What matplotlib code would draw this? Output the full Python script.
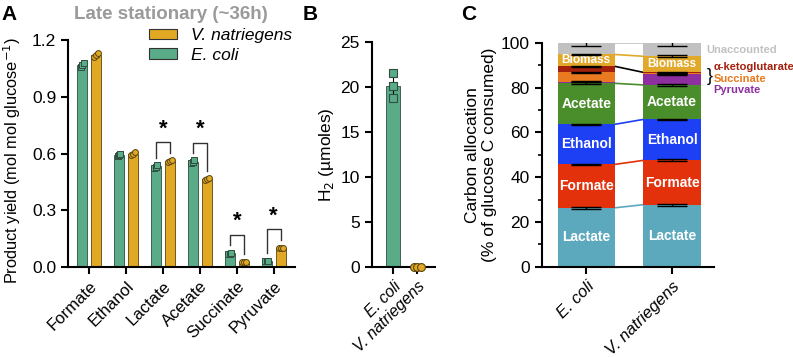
import numpy as np
import matplotlib.pyplot as plt
from matplotlib.patches import Patch

plt.rcParams['font.family'] = ['Liberation Sans', 'DejaVu Sans']
plt.rcParams['axes.linewidth'] = 1.5
plt.rcParams['xtick.major.width'] = 1.5
plt.rcParams['ytick.major.width'] = 1.5
plt.rcParams['ytick.minor.width'] = 1.2
plt.rcParams['xtick.major.size'] = 5
plt.rcParams['ytick.major.size'] = 5

# ---- panel A: product yields (mol / mol glucose), three replicates each
products = ["Formate", "Ethanol", "Lactate", "Acetate", "Succinate", "Pyruvate"]
ecoli_yield = [[1.055, 1.07, 1.08], [0.585, 0.59, 0.595], [0.525, 0.53, 0.54],
               [0.55, 0.555, 0.565], [0.07, 0.07, 0.075], [0.03, 0.03, 0.03]]
vnat_yield = [[1.11, 1.12, 1.13], [0.59, 0.60, 0.61], [0.555, 0.56, 0.565],
              [0.46, 0.465, 0.47], [0.025, 0.025, 0.025], [0.10, 0.10, 0.10]]
significant = ["Lactate", "Acetate", "Succinate", "Pyruvate"]

# ---- panel B: H2 produced (umoles)
strains = ["E. coli", "V. natriegens"]
h2_ecoli = [18.8, 20.1, 21.6]
h2_vnat = [0.0, 0.0, 0.0]

# ---- panel C: carbon allocation (% of glucose C consumed)
fractions = ["Lactate", "Formate", "Ethanol", "Acetate", "Pyruvate",
             "Succinate", "α-ketoglutarate", "Biomass", "Unaccounted"]
alloc_ecoli = [26.3, 19.4, 17.9, 18.3, 0.7, 4.2, 2.7, 5.3, 5.2]
alloc_vnat = [27.7, 19.8, 18.3, 15.4, 4.8, 0.6, 0.2, 7.2, 6.0]
alloc_err_ecoli = [0.4, 0.3, 0.3, 0.4, 0.2, 0.2, 0.2, 0.4, 1.3]
alloc_err_vnat = [0.4, 0.4, 0.3, 0.3, 0.3, 0.1, 0.1, 0.4, 1.4]

green = "#5aab88"
gold = "#e1a823"
frac_colors = ["#5ca9be", "#e2310b", "#1e40f5", "#4a8d2b", "#8e2f9f",
               "#e97a20", "#a3200c", "#e2a82a", "#c1c1c1"]
inside_labels = ["Lactate", "Formate", "Ethanol", "Acetate", "Biomass"]
linked = ["Lactate", "Formate", "Ethanol", "Acetate", "α-ketoglutarate",
          "Biomass", "Unaccounted"]

fig = plt.figure(figsize=(7.93, 3.57), dpi=100)

# ================= A =================
ax = fig.add_axes([0.0858, 0.252, 0.286, 0.636])
x = np.arange(len(products))
w = 0.27
off = 0.19
e_mean = [np.mean(v) for v in ecoli_yield]
v_mean = [np.mean(v) for v in vnat_yield]
e_sd = [np.std(v) for v in ecoli_yield]
v_sd = [np.std(v) for v in vnat_yield]
ax.bar(x - off, e_mean, w, color=green, edgecolor="#2f4f40", linewidth=0.6,
       yerr=e_sd, capsize=2, error_kw=dict(lw=0.8, capthick=0.8), zorder=2)
ax.bar(x + off, v_mean, w, color=gold, edgecolor="#5a4510", linewidth=0.6,
       yerr=v_sd, capsize=2, error_kw=dict(lw=0.8, capthick=0.8), zorder=2)
for i in range(len(products)):
    ax.scatter(np.full(3, x[i] - off) + np.array([-0.04, 0.0, 0.04]), ecoli_yield[i],
               marker="s", s=18, facecolor=green, edgecolor="#2f4f40", lw=0.7, zorder=3)
    ax.scatter(np.full(3, x[i] + off) + np.array([-0.05, 0.0, 0.05]), vnat_yield[i],
               marker="o", s=18, facecolor=gold, edgecolor="#5a4510", lw=0.7, zorder=3)
for name in significant:
    i = products.index(name)
    top = max(e_mean[i], v_mean[i])
    yb = top + 0.1
    ax.plot([x[i] - off, x[i] - off, x[i] + off, x[i] + off],
            [e_mean[i] + 0.045, yb, yb, v_mean[i] + 0.045], color="#333333", lw=1.0)
    ax.text(x[i], yb + 0.015, "*", ha="center", va="bottom", fontsize=16, fontweight="bold")
ax.set_xlim(-0.57, len(products) - 0.43)
ax.set_ylim(0, 1.2)
ax.set_yticks([0, 0.3, 0.6, 0.9, 1.2])
ax.set_yticklabels(["0.0", "0.3", "0.6", "0.9", "1.2"], fontsize=12.5)
ax.set_xticks(x)
ax.set_xticklabels(products, rotation=45, ha="right", rotation_mode="anchor", fontsize=12)
ax.set_ylabel("Product yield (mol mol glucose$^{-1}$)", fontsize=11.8)
ax.yaxis.set_label_coords(-0.2, 0.47)
ax.spines[["top", "right"]].set_visible(False)
handles = [Patch(facecolor=gold, edgecolor="#333333", lw=0.8),
           Patch(facecolor=green, edgecolor="#333333", lw=0.8)]
leg = ax.legend(handles, ["V. natriegens", "E. coli"], loc="upper left",
                bbox_to_anchor=(0.29, 1.12), frameon=False, handlelength=1.6,
                handleheight=0.55, prop=dict(size=12.5, style="italic"),
                labelspacing=0.25, handletextpad=0.8)
fig.text(0.216, 0.958, "Late stationary (~36h)", ha="center", va="center",
         fontsize=13.5, fontweight="bold", color="#9a9a9a")

# ================= B =================
bx = fig.add_axes([0.4687, 0.253, 0.0799, 0.629])
bx.bar([0], [np.mean(h2_ecoli)], 0.6, color=green, edgecolor="#2f4f40", lw=0.6,
       yerr=[np.std(h2_ecoli)], capsize=2, error_kw=dict(lw=0.8), zorder=2)
bx.bar([1], [np.mean(h2_vnat)], 0.6, color=gold, edgecolor="#5a4510", lw=0.6, zorder=2)
bx.scatter([0, 0, 0], h2_ecoli, marker="s", s=32, facecolor=green,
           edgecolor="#2f4f40", lw=0.8, zorder=3)
bx.scatter([0.85, 1.0, 1.15], h2_vnat, marker="o", s=32, facecolor=gold,
           edgecolor="#5a4510", lw=0.8, zorder=3, clip_on=False)
bx.set_xlim(-0.88, 1.73)
bx.set_ylim(0, 25)
bx.set_yticks([0, 5, 10, 15, 20, 25])
bx.tick_params(axis="y", labelsize=12.5)
bx.set_xticks([0, 1])
bx.set_xticklabels(strains, rotation=45, ha="right", rotation_mode="anchor",
                   fontsize=11.5, style="italic")
bx.set_ylabel("H$_2$ (µmoles)", fontsize=12.5, labelpad=3)
bx.spines[["top", "right"]].set_visible(False)

# ================= C =================
cx = fig.add_axes([0.683, 0.253, 0.217, 0.627])
bw = 0.667
pos = [0, 1]
tops = []
for k, (vals, errs) in enumerate([(alloc_ecoli, alloc_err_ecoli), (alloc_vnat, alloc_err_vnat)]):
    bottom = 0.0
    cum = []
    for j, v in enumerate(vals):
        cx.bar(pos[k], v, bw, bottom=bottom, color=frac_colors[j], lw=0, zorder=2)
        if fractions[j] in inside_labels:
            fs = 8.5 if fractions[j] == "Biomass" else 10
            cx.text(pos[k], bottom + v / 2, fractions[j], ha="center", va="center",
                    color="white", fontweight="bold", fontsize=fs, zorder=4)
        bottom += v
        cum.append(bottom)
        cx.errorbar(pos[k], bottom, yerr=errs[j], color="black", lw=1.0,
                    capsize=11, capthick=1.0, zorder=5)
    tops.append(cum)
for j, name in enumerate(fractions):
    if name in linked:
        lc = "black" if name == "α-ketoglutarate" else frac_colors[j]
        cx.plot([pos[0] + bw / 2, pos[1] - bw / 2], [tops[0][j], tops[1][j]],
                color=lc, lw=1.2, zorder=1)
cx.set_xlim(-0.52, 1.485)
cx.set_ylim(0, 100)
cx.set_yticks([0, 20, 40, 60, 80, 100])
cx.set_yticks([10, 30, 50, 70, 90], minor=True)
cx.tick_params(axis="y", which="minor", length=3)
cx.tick_params(axis="y", labelsize=12.5)
cx.set_xticks(pos)
cx.set_xticklabels(strains, rotation=45, ha="right", rotation_mode="anchor",
                   fontsize=12, style="italic")
cx.set_ylabel("Carbon allocation\n(% of glucose C consumed)", fontsize=12.5,
              labelpad=3, linespacing=1.15)
cx.spines[["top", "right"]].set_visible(False)
# side legend of the thin fractions
side = [("Unaccounted", 1.40, 96.7), ("α-ketoglutarate", 1.485, 89.3),
        ("Succinate", 1.485, 84.0), ("Pyruvate", 1.485, 79.0)]
for name, sx, sy in side:
    cx.text(sx, sy, name, ha="left", va="center", fontsize=8, fontweight="bold",
            color=frac_colors[fractions.index(name)], clip_on=False)
cx.text(1.405, 85.0, "}", ha="left", va="center", fontsize=13, clip_on=False)

# panel letters
fig.text(0.002, 0.96, "A", fontsize=15, fontweight="bold", va="center")
fig.text(0.381, 0.96, "B", fontsize=15, fontweight="bold", va="center")
fig.text(0.581, 0.96, "C", fontsize=15, fontweight="bold", va="center")

fig.savefig("out.png", dpi=100)
